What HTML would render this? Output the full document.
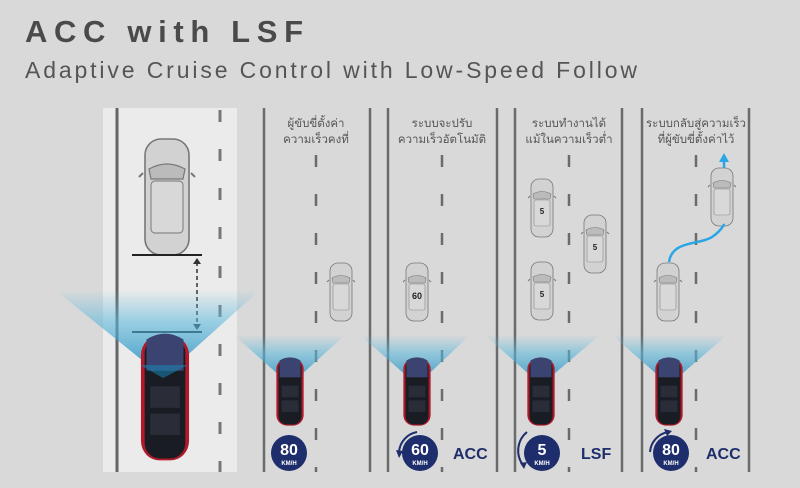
<!DOCTYPE html>
<html><head><meta charset="utf-8"><style>
html,body{margin:0;padding:0;background:#d9d9d9;}
svg{display:block;}
</style></head><body>
<svg width="800" height="488" viewBox="0 0 800 488" xmlns="http://www.w3.org/2000/svg" font-family="'Liberation Sans', 'Noto Sans CJK SC', sans-serif">
<defs>
<linearGradient id="beam" x1="0" y1="0" x2="0" y2="1">
<stop offset="0" stop-color="#5ab8dc" stop-opacity="0"/>
<stop offset="0.35" stop-color="#5ab8dc" stop-opacity="0.55"/>
<stop offset="1" stop-color="#1a86b8" stop-opacity="0.9"/>
</linearGradient>
<g id="gcar">
<rect x="-11" y="-29" width="22" height="58" rx="8" fill="#d2d2d2" stroke="#777" stroke-width="0.8"/>
<path d="M-9 -14 Q0 -19 9 -14 L8 -9 L-8 -9Z" fill="#bbb" stroke="#777" stroke-width="0.6"/>
<rect x="-8" y="-8" width="16" height="26" rx="2" fill="#d8d8d8" stroke="#888" stroke-width="0.6"/>
<path d="M-12 -12 l-2 2 M12 -12 l2 2" stroke="#777"/>
</g>
<g id="rcar">
<rect x="-13" y="-32" width="26" height="64" rx="10" fill="#b01a2a"/>
<rect x="-11" y="-31" width="22" height="62" rx="8" fill="#1a1c24"/>
<path d="M-10 -30 Q0 -36 10 -30 L10 -14 L-10 -14Z" fill="#3b4470"/>
<rect x="-8" y="-6" width="16" height="11" fill="#2a2d38"/>
<rect x="-8" y="8" width="16" height="11" fill="#2a2d38"/>
</g>
</defs>
<rect width="800" height="488" fill="#d9d9d9"/>
<text x="25" y="42" font-size="31" font-weight="bold" fill="#4a4a4a" textLength="278" lengthAdjust="spacing">ACC with LSF</text>
<text x="25" y="78" font-size="23" fill="#555" textLength="612" lengthAdjust="spacing">Adaptive Cruise Control with Low-Speed Follow</text>

<!-- left panel -->
<rect x="103" y="108" width="134" height="364" fill="#ebebeb"/>
<line x1="117" y1="108" x2="117" y2="472" stroke="#666" stroke-width="3"/>
<line x1="220" y1="110" x2="220" y2="472" stroke="#777" stroke-width="3" stroke-dasharray="12,27"/>

<!-- road lines -->
<g stroke="#6b6b6b" stroke-width="2.5">
<line x1="264" y1="108" x2="264" y2="472"/><line x1="370" y1="108" x2="370" y2="472"/>
<line x1="388" y1="108" x2="388" y2="472"/><line x1="497" y1="108" x2="497" y2="472"/>
<line x1="515" y1="108" x2="515" y2="472"/><line x1="622" y1="108" x2="622" y2="472"/>
<line x1="642" y1="108" x2="642" y2="472"/><line x1="749" y1="108" x2="749" y2="472"/>
</g>
<g stroke="#6b6b6b" stroke-width="2.5" stroke-dasharray="12,27">
<line x1="316" y1="155" x2="316" y2="472"/><line x1="442" y1="155" x2="442" y2="472"/>
<line x1="569" y1="155" x2="569" y2="472"/><line x1="696" y1="155" x2="696" y2="472"/>
</g>

<!-- labels -->
<g font-size="11.5" fill="#555" text-anchor="middle">
<text x="316" y="127">ผู้ขับขี่ตั้งค่า</text><text x="316" y="143">ความเร็วคงที่</text>
<text x="442" y="127">ระบบจะปรับ</text><text x="442" y="143">ความเร็วอัตโนมัติ</text>
<text x="569" y="127">ระบบทำงานได้</text><text x="569" y="143">แม้ในความเร็วต่ำ</text>
<text x="696" y="127">ระบบกลับสู่ความเร็ว</text><text x="696" y="143">ที่ผู้ขับขี่ตั้งค่าไว้</text>
</g>

<!-- left panel contents -->
<g transform="translate(167,197) scale(2,2)"><use href="#gcar"/></g>
<line x1="132" y1="255" x2="202" y2="255" stroke="#222" stroke-width="2"/>
<line x1="132" y1="332" x2="202" y2="332" stroke="#222" stroke-width="2"/>
<line x1="197" y1="262" x2="197" y2="326" stroke="#333" stroke-width="1.5" stroke-dasharray="4,3"/>
<path d="M193 264 L197 258 L201 264Z M193 324 L197 330 L201 324Z" fill="#333"/>
<polygon points="55,290 260,290 163,377" fill="url(#beam)"/>
<g transform="translate(165,398) scale(1.85,1.95)"><use href="#rcar"/></g>
<polygon points="140,365 188,365 163,378" fill="#1a86b8" opacity="0.55"/>

<!-- gray cars -->
<use href="#gcar" x="341" y="292"/>
<use href="#gcar" x="417" y="292"/>
<text x="417" y="299" font-size="9" font-weight="bold" text-anchor="middle" fill="#222">60</text>
<use href="#gcar" x="542" y="208"/><text x="542" y="214" font-size="8" font-weight="bold" text-anchor="middle" fill="#222">5</text>
<use href="#gcar" x="595" y="244"/><text x="595" y="250" font-size="8" font-weight="bold" text-anchor="middle" fill="#222">5</text>
<use href="#gcar" x="542" y="291"/><text x="542" y="297" font-size="8" font-weight="bold" text-anchor="middle" fill="#222">5</text>
<use href="#gcar" x="722" y="197"/>
<use href="#gcar" x="668" y="292"/>
<path d="M669 262 C672 240 700 245 712 237 C724 229 724 222 724 226" fill="none" stroke="#2aa6e6" stroke-width="2.5"/>
<line x1="724" y1="168" x2="724" y2="160" stroke="#2aa6e6" stroke-width="2.5"/>
<path d="M719 162 L724 153 L729 162Z" fill="#2aa6e6"/>

<!-- beams + red cars -->
<g>
<polygon points="234,335 345,335 290,385" fill="url(#beam)"/>
<polygon points="360,335 470,335 417,385" fill="url(#beam)"/>
<polygon points="485,335 600,335 541,385" fill="url(#beam)"/>
<polygon points="612,335 727,335 669,385" fill="url(#beam)"/>
</g>
<g transform="translate(290,392) scale(1.05,1.05)"><use href="#rcar"/></g>
<g transform="translate(417,392) scale(1.05,1.05)"><use href="#rcar"/></g>
<g transform="translate(541,392) scale(1.05,1.05)"><use href="#rcar"/></g>
<g transform="translate(669,392) scale(1.05,1.05)"><use href="#rcar"/></g>

<!-- speed badges -->
<g text-anchor="middle" font-weight="bold" fill="#fff">
<circle cx="289" cy="453" r="18" fill="#1e2d6b"/><text x="289" y="455" font-size="16">80</text><text x="289" y="465" font-size="6">KM/H</text>
<circle cx="420" cy="453" r="18" fill="#1e2d6b"/><text x="420" y="455" font-size="16">60</text><text x="420" y="465" font-size="6">KM/H</text>
<circle cx="542" cy="453" r="18" fill="#1e2d6b"/><text x="542" y="455" font-size="16">5</text><text x="542" y="465" font-size="6">KM/H</text>
<circle cx="671" cy="453" r="18" fill="#1e2d6b"/><text x="671" y="455" font-size="16">80</text><text x="671" y="465" font-size="6">KM/H</text>
</g>
<g fill="none" stroke="#1e2d6b" stroke-width="2">
<path d="M417 432 A22 22 0 0 0 399 452"/>
<path d="M527 432 A24 24 0 0 0 523 465"/>
<path d="M650 452 A22 22 0 0 1 668 432"/>
</g>
<path d="M396 450 l3 8 l4 -7Z M520 463 l4 6 l3 -7Z M664 429 l8 2 l-5 5Z" fill="#1e2d6b"/>
<g font-size="16" font-weight="bold" fill="#1e2d6b">
<text x="453" y="459">ACC</text><text x="581" y="459">LSF</text><text x="706" y="459">ACC</text>
</g>
</svg>
</body></html>
